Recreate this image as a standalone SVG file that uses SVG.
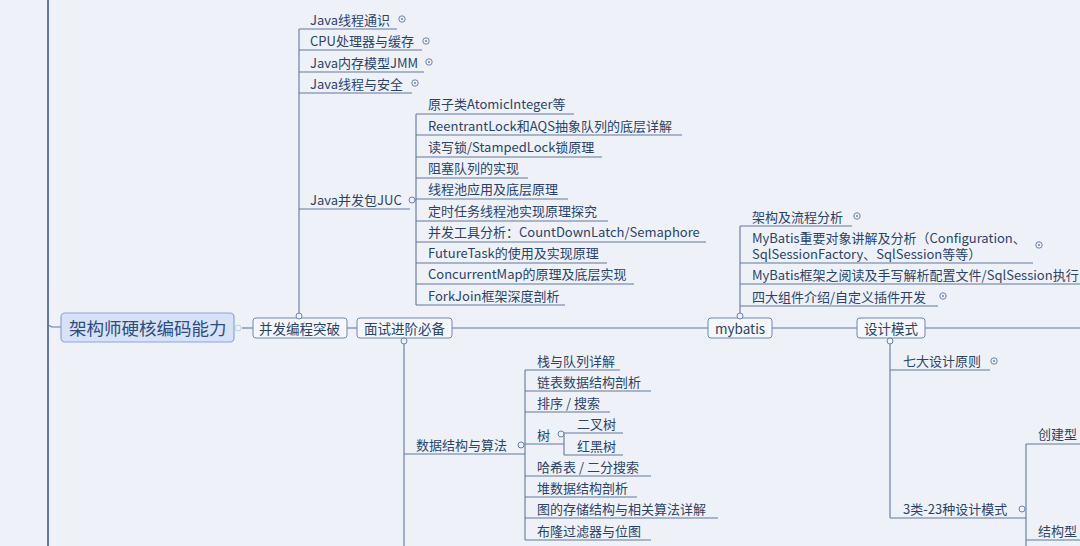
<svg xmlns="http://www.w3.org/2000/svg" width="1080" height="546" viewBox="0 0 1080 546">
<style>
.bg{fill:#eef2f8}
.ln{stroke:#5f789c;stroke-width:1.1;fill:none}
.t{font-family:"Noto Sans CJK SC","Noto Sans",sans-serif;font-size:13px;fill:#2a4468;dominant-baseline:central}
.box{fill:#f4f7fb;stroke:#6f88ab;stroke-width:1}
.main{fill:#d5e2f8;stroke:#8aa6d6;stroke-width:1.2}
.mt{font-family:"Noto Sans CJK SC","Noto Sans",sans-serif;font-size:17.5px;fill:#2e4c7c;dominant-baseline:central}
.bt{font-family:"Noto Sans CJK SC","Noto Sans",sans-serif;font-size:13.5px;fill:#2a4468;dominant-baseline:central}
.oc{fill:#eef2f8;stroke:#6b83a4;stroke-width:1}
.dot{fill:#6b83a4}
</style>
<defs>
<g id="plus"><circle r="3.2" class="oc"/><circle r="1" class="dot"/></g>
</defs>
<rect class="bg" width="1080" height="546"/>

<g id="connectors">
<line class="ln" x1="48" y1="0" x2="48" y2="546" style="stroke-width:2"/>
<path class="ln" d="M48,325 L52,327 L61,327"/>
<line class="ln" x1="242" y1="328" x2="253" y2="328"/>
<line class="ln" x1="347" y1="328" x2="357" y2="328"/>
<line class="ln" x1="452" y1="328" x2="708" y2="328"/>
<line class="ln" x1="772" y1="328" x2="857" y2="328"/>
<line class="ln" x1="925" y1="328" x2="1080" y2="328"/>
<!-- 并发编程突破 branch -->
<line class="ln" x1="299" y1="29" x2="299" y2="313"/>
<line class="ln" x1="299" y1="29" x2="397" y2="29"/>
<line class="ln" x1="299" y1="50" x2="422" y2="50"/>
<line class="ln" x1="299" y1="72" x2="424" y2="72"/>
<line class="ln" x1="299" y1="93" x2="412" y2="93"/>
<line class="ln" x1="299" y1="209" x2="410" y2="209"/>
<line class="ln" x1="415" y1="200" x2="416" y2="200"/>
<line class="ln" x1="416" y1="114" x2="416" y2="305"/>
<line class="ln" x1="416" y1="114" x2="574" y2="114"/>
<line class="ln" x1="416" y1="135" x2="682" y2="135"/>
<line class="ln" x1="416" y1="157" x2="602" y2="157"/>
<line class="ln" x1="416" y1="178" x2="528" y2="178"/>
<line class="ln" x1="416" y1="199" x2="568" y2="199"/>
<line class="ln" x1="416" y1="221" x2="608" y2="221"/>
<line class="ln" x1="416" y1="242" x2="706" y2="242"/>
<line class="ln" x1="416" y1="263" x2="607" y2="263"/>
<line class="ln" x1="416" y1="284" x2="634" y2="284"/>
<line class="ln" x1="416" y1="305" x2="565" y2="305"/>
<!-- 面试进阶必备 branch -->
<line class="ln" x1="404" y1="344" x2="404" y2="546"/>
<line class="ln" x1="404" y1="454" x2="525" y2="454"/>
<line class="ln" x1="525" y1="370" x2="525" y2="540"/>
<line class="ln" x1="525" y1="370" x2="620" y2="370"/>
<line class="ln" x1="525" y1="391" x2="651" y2="391"/>
<line class="ln" x1="525" y1="412" x2="610" y2="412"/>
<line class="ln" x1="525" y1="444" x2="564" y2="444"/>
<line class="ln" x1="564" y1="433" x2="564" y2="455"/>
<line class="ln" x1="564" y1="433" x2="623" y2="433"/>
<line class="ln" x1="564" y1="455" x2="623" y2="455"/>
<line class="ln" x1="525" y1="476" x2="651" y2="476"/>
<line class="ln" x1="525" y1="497" x2="637" y2="497"/>
<line class="ln" x1="525" y1="518" x2="718" y2="518"/>
<line class="ln" x1="525" y1="540" x2="651" y2="540"/>
<!-- mybatis branch -->
<line class="ln" x1="740" y1="226" x2="740" y2="313"/>
<line class="ln" x1="740" y1="226" x2="852" y2="226"/>
<line class="ln" x1="740" y1="263" x2="1033" y2="263"/>
<line class="ln" x1="740" y1="284" x2="1080" y2="284"/>
<line class="ln" x1="740" y1="306" x2="938" y2="306"/>
<!-- 设计模式 branch -->
<line class="ln" x1="890" y1="344" x2="890" y2="518"/>
<line class="ln" x1="890" y1="370" x2="990" y2="370"/>
<line class="ln" x1="890" y1="518" x2="1026" y2="518"/>
<line class="ln" x1="1026" y1="444" x2="1026" y2="546"/>
<line class="ln" x1="1026" y1="444" x2="1080" y2="444"/>
<line class="ln" x1="1026" y1="540" x2="1080" y2="540"/>
</g>

<g id="n-root">
<rect class="main" x="61" y="313" width="173" height="29" rx="4"/>
<text class="mt" x="69" y="327.5">架构师硬核编码能力</text>
<circle cx="238" cy="328" r="3" fill="none" stroke="#c4cfdf" stroke-width="1"/>
</g>

<g id="n-concurrency">
<rect class="box" x="253" y="318" width="94" height="20" rx="3"/>
<text class="bt" x="259" y="328">并发编程突破</text>
<circle cx="299" cy="316" r="3" class="oc"/>
</g>
<g id="n-interview">
<rect class="box" x="357" y="318" width="95" height="20" rx="3"/>
<text class="bt" x="364" y="328">面试进阶必备</text>
<circle cx="404" cy="341" r="3" class="oc"/>
</g>
<g id="n-mybatis">
<rect class="box" x="708" y="318" width="64" height="20" rx="3"/>
<text class="bt" x="715" y="328">mybatis</text>
<circle cx="740" cy="316" r="3" class="oc"/>
</g>
<g id="n-design">
<rect class="box" x="857" y="318" width="68" height="20" rx="3"/>
<text class="bt" x="864" y="328">设计模式</text>
<circle cx="890" cy="341" r="3" class="oc"/>
</g>

<g id="n-java-basic"><text class="t" x="310" y="19">Java线程通识</text><use href="#plus" x="402" y="19"/></g>
<g id="n-cpu"><text class="t" x="310" y="40">CPU处理器与缓存</text><use href="#plus" x="426" y="41"/></g>
<g id="n-jmm"><text class="t" x="310" y="62">Java内存模型JMM</text><use href="#plus" x="429" y="62"/></g>
<g id="n-safe"><text class="t" x="310" y="83">Java线程与安全</text><use href="#plus" x="415" y="83"/></g>
<g id="n-juc"><text class="t" x="310" y="199">Java并发包JUC</text><circle cx="412" cy="200" r="3" class="oc"/></g>

<g id="n-atomic"><text class="t" x="428" y="103">原子类AtomicInteger等</text></g>
<g id="n-aqs"><text class="t" x="428" y="125">ReentrantLock和AQS抽象队列的底层详解</text></g>
<g id="n-rwlock"><text class="t" x="428" y="146">读写锁/StampedLock锁原理</text></g>
<g id="n-blocking"><text class="t" x="428" y="167">阻塞队列的实现</text></g>
<g id="n-pool"><text class="t" x="428" y="188">线程池应用及底层原理</text></g>
<g id="n-sched"><text class="t" x="428" y="210">定时任务线程池实现原理探究</text></g>
<g id="n-tools"><text class="t" x="428" y="231">并发工具分析：CountDownLatch/Semaphore</text></g>
<g id="n-future"><text class="t" x="428" y="252">FutureTask的使用及实现原理</text></g>
<g id="n-cmap"><text class="t" x="428" y="273">ConcurrentMap的原理及底层实现</text></g>
<g id="n-forkjoin"><text class="t" x="428" y="295">ForkJoin框架深度剖析</text></g>

<g id="n-ds"><text class="t" x="416" y="444">数据结构与算法</text><circle cx="521" cy="445" r="3" class="oc"/></g>
<g id="n-stack"><text class="t" x="537" y="360">栈与队列详解</text></g>
<g id="n-list"><text class="t" x="537" y="381">链表数据结构剖析</text></g>
<g id="n-sort"><text class="t" x="537" y="402">排序 / 搜索</text></g>
<g id="n-tree"><text class="t" x="537" y="434">树</text><circle cx="561" cy="434" r="3" class="oc"/></g>
<g id="n-bintree"><text class="t" x="577" y="423">二叉树</text></g>
<g id="n-rbtree"><text class="t" x="577" y="445">红黑树</text></g>
<g id="n-hash"><text class="t" x="537" y="466">哈希表 / 二分搜索</text></g>
<g id="n-heap"><text class="t" x="537" y="487">堆数据结构剖析</text></g>
<g id="n-graph"><text class="t" x="537" y="508">图的存储结构与相关算法详解</text></g>
<g id="n-bloom"><text class="t" x="537" y="530">布隆过滤器与位图</text></g>

<g id="n-arch"><text class="t" x="752" y="216">架构及流程分析</text><use href="#plus" x="857" y="216"/></g>
<g id="n-objects"><text class="t" x="752" y="237.5">MyBatis重要对象讲解及分析（Configuration、<tspan x="752" dy="15.5">SqlSessionFactory、SqlSession等等）</tspan></text><use href="#plus" x="1039" y="245"/></g>
<g id="n-handwrite"><text class="t" x="752" y="274">MyBatis框架之阅读及手写解析配置文件/SqlSession执行</text></g>
<g id="n-plugins"><text class="t" x="752" y="296">四大组件介绍/自定义插件开发</text><use href="#plus" x="943" y="296"/></g>

<g id="n-seven"><text class="t" x="903" y="360">七大设计原则</text><use href="#plus" x="994" y="361"/></g>
<g id="n-23"><text class="t" x="903" y="508">3类-23种设计模式</text><circle cx="1022" cy="509" r="3" class="oc"/></g>
<g id="n-create"><text class="t" x="1038" y="433">创建型</text></g>
<g id="n-struct"><text class="t" x="1038" y="530">结构型</text></g>
</svg>
